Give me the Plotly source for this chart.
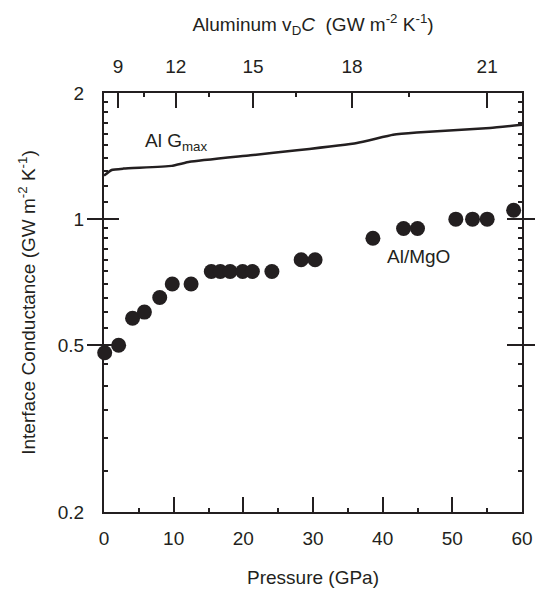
import plotly.graph_objects as go

# Al/MgO interface conductance measurements
pressure_gpa = [0.1, 2.1, 4.1, 5.8, 8.0, 9.8, 12.5, 15.4, 16.7, 18.1, 19.9, 21.3, 24.1,
                28.3, 30.3, 38.6, 43.0, 45.0, 50.5, 52.9, 55.0, 58.8]
conductance = [0.48, 0.50, 0.58, 0.60, 0.65, 0.70, 0.70, 0.75, 0.75, 0.75, 0.75, 0.75, 0.75,
               0.80, 0.80, 0.90, 0.95, 0.95, 1.00, 1.00, 1.00, 1.05]

# Al G_max curve
gmax_p = [0.0, 1.1, 2.8, 9.7, 12.3, 21.0, 27.7, 36.3, 41.5, 44.9, 55.4, 60.0]
gmax_g = [1.27, 1.31, 1.32, 1.34, 1.37, 1.42, 1.46, 1.52, 1.59, 1.61, 1.65, 1.68]

# top axis: aluminum v_D C, placed at the matching pressure
vdc_labels = ["9", "12", "15", "18", "21"]
vdc_at_pressure = [2.0, 10.3, 21.4, 35.6, 55.0]
vdc_minor_at_pressure = [5.7, 15.1, 27.6, 43.8]

x_ticks = [0, 10, 20, 30, 40, 50, 60]
x_minor = [5, 15, 25, 35, 45, 55]
y_ticks = [0.2, 0.5, 1, 2]
y_tick_text = ["0.2", "0.5", "1", "2"]
y_minor = [0.25, 0.3, 0.35, 0.4, 0.45, 0.55, 0.6, 0.65, 0.7, 0.75, 0.8, 0.85, 0.9, 0.95,
           1.1, 1.2, 1.3, 1.4, 1.5, 1.6, 1.7, 1.8, 1.9]

ink = "#231f20"
font = "Liberation Sans, Arial, sans-serif"
fs = 19
y_range = [-0.69897, 0.30103]

fig = go.Figure()
fig.add_trace(go.Scatter(x=gmax_p, y=gmax_g, mode="lines",
                         line=dict(color=ink, width=2.5, shape="spline", smoothing=0.4),
                         showlegend=False, hoverinfo="skip"))
fig.add_trace(go.Scatter(x=pressure_gpa, y=conductance, mode="markers",
                         marker=dict(color=ink, size=15), showlegend=False,
                         cliponaxis=False))
# invisible traces so the extra tick axes are drawn
hidden = dict(mode="markers", marker=dict(opacity=0), showlegend=False, hoverinfo="skip")
fig.add_trace(go.Scatter(x=[0, 60], y=[1, 1], xaxis="x2", **hidden))
fig.add_trace(go.Scatter(x=[0, 60], y=[1, 1], xaxis="x3", **hidden))
fig.add_trace(go.Scatter(x=[0, 60], y=[1, 1], xaxis="x4", **hidden))
fig.add_trace(go.Scatter(x=[0, 60], y=[1, 1], yaxis="y2", **hidden))
fig.add_trace(go.Scatter(x=[0, 60], y=[1, 1], yaxis="y3", **hidden))

fig.add_annotation(x=5.6, y=0.185, xref="x", yref="y", text="Al G<sub>max</sub>",
                   showarrow=False, xanchor="left", yanchor="middle",
                   font=dict(size=fs, color=ink, family=font))
fig.add_annotation(x=40.4, y=-0.09, xref="x", yref="y", text="Al/MgO",
                   showarrow=False, xanchor="left", yanchor="middle",
                   font=dict(size=fs, color=ink, family=font))

minor_axis = dict(ticks="inside", ticklen=4, tickwidth=1.5, tickcolor=ink,
                  showticklabels=False, showgrid=False, zeroline=False,
                  showline=False, automargin=False)

fig.update_layout(
    width=535, height=589,
    margin=dict(l=104, r=13, t=93, b=77),
    paper_bgcolor="white", plot_bgcolor="white",
    font=dict(family=font, size=fs, color=ink),
    xaxis=dict(range=[0, 60], tickvals=x_ticks, ticks="inside", ticklen=15, tickwidth=2,
               tickcolor=ink, showline=True, linecolor=ink, linewidth=2, mirror=True,
               showgrid=False, zeroline=False, ticklabelstandoff=8, automargin=False,
               title=dict(text="Pressure (GPa)", standoff=23, font=dict(size=fs))),
    xaxis2=dict(range=[0, 60], overlaying="x", side="top", tickvals=vdc_at_pressure,
                ticktext=vdc_labels, ticks="inside", ticklen=15, tickwidth=2, tickcolor=ink,
                showline=False, showgrid=False, zeroline=False, ticklabelstandoff=15,
                automargin=False,
                title=dict(text="Aluminum v<sub>D</sub><i>C</i>  (GW m<sup>-2</sup> K<sup>-1</sup>)",
                           standoff=19, font=dict(size=fs))),
    xaxis3=dict(range=[0, 60], overlaying="x", side="bottom", tickvals=x_minor, **minor_axis),
    xaxis4=dict(range=[0, 60], overlaying="x", side="top", tickvals=vdc_minor_at_pressure,
                **minor_axis),
    yaxis=dict(type="log", range=y_range, tickvals=y_ticks, ticktext=y_tick_text,
               ticks="inside", ticklen=15, tickwidth=2, tickcolor=ink, showline=True,
               linecolor=ink, linewidth=2, mirror="allticks", showgrid=False, zeroline=False,
               ticklabelstandoff=14, automargin=False,
               title=dict(text="Interface Conductance (GW m<sup>-2</sup> K<sup>-1</sup>)",
                          standoff=17, font=dict(size=fs))),
    yaxis2=dict(type="log", range=y_range, overlaying="y", side="left", tickvals=y_minor,
                **minor_axis),
    yaxis3=dict(type="log", range=y_range, overlaying="y", side="right", tickvals=y_minor,
                **minor_axis),
)

# drop the default page margin so the figure fills the window exactly
fig.write_html("out.html", config={"displayModeBar": False},
               post_script="document.body.style.margin='0';")
